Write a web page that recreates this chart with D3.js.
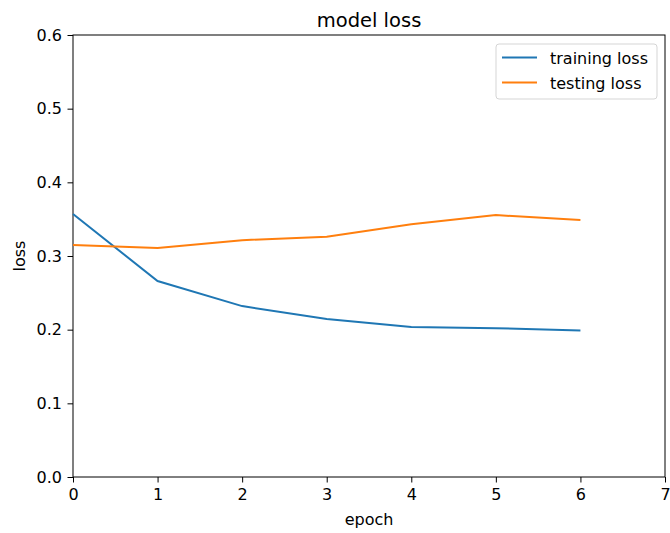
<!DOCTYPE html>
<html>
<head>
<meta charset="utf-8">
<script src="https://cdn.jsdelivr.net/npm/d3@7"></script>
<style>
  body { margin: 0; background: #fff; }
  text { font-family: "DejaVu Sans", sans-serif; fill: #000; }
</style>
</head>
<body>
<div id="chart"></div>
<script>
"use strict";

// data
const epochs = [0, 1, 2, 3, 4, 5, 6];
const trainingLoss = [0.357, 0.266, 0.232, 0.2145, 0.2035, 0.202, 0.199];
const testingLoss = [0.315, 0.311, 0.3215, 0.326, 0.343, 0.3555, 0.349];
const xTicks = [0, 1, 2, 3, 4, 5, 6, 7];
const yTicks = [0.0, 0.1, 0.2, 0.3, 0.4, 0.5, 0.6];

const series = [
  { name: "training loss", values: trainingLoss, color: "#1f77b4" },
  { name: "testing loss", values: testingLoss, color: "#ff7f0e" }
];

const width = 670, height = 533;
const margin = { left: 73, right: 5, top: 35, bottom: 56 };
const fontSize = "16px";

let svg = d3.select("#chart").append("svg")
  .attr("width", width)
  .attr("height", height);

let x = d3.scaleLinear().domain([0, 7]).range([margin.left, width - margin.right]);
let y = d3.scaleLinear().domain([0, 0.6]).range([height - margin.bottom, margin.top]);

//axes
let xAxis = svg.append("g")
  .attr("transform", `translate(0, ${y(0)})`)
  .call(d3.axisBottom(x).tickValues(xTicks).tickFormat(d3.format("d")).tickSize(5.5).tickPadding(6.5));
let yAxis = svg.append("g")
  .attr("transform", `translate(${x(0)}, 0)`)
  .call(d3.axisLeft(y).tickValues(yTicks).tickFormat(d3.format(".1f")).tickSize(5.5).tickPadding(5.5));
[xAxis, yAxis].forEach(a => {
  a.selectAll("text").style("font-size", fontSize).style("font-family", "DejaVu Sans, sans-serif").attr("fill", "#000");
  a.selectAll("line").attr("stroke", "#000").attr("stroke-width", 1);
  a.select(".domain").remove();
});

//frame
svg.append("rect")
  .attr("x", x(0)).attr("y", y(0.6))
  .attr("width", x(7) - x(0)).attr("height", y(0) - y(0.6))
  .attr("fill", "none").attr("stroke", "#000").attr("stroke-width", 1);

//lines
let line = d3.line()
  .x((d, i) => x(epochs[i]))
  .y(d => y(d));

svg.selectAll("path.series")
  .data(series)
  .enter()
  .append("path")
  .classed("series", true)
  .attr("d", d => line(d.values))
  .attr("fill", "none")
  .attr("stroke", d => d.color)
  .attr("stroke-width", 2);

//titles
svg.append("text")
  .attr("x", (x(0) + x(7)) / 2).attr("y", 26.5)
  .attr("text-anchor", "middle")
  .style("font-size", "19.5px")
  .text("model loss");
svg.append("text")
  .attr("x", (x(0) + x(7)) / 2).attr("y", 525)
  .attr("text-anchor", "middle")
  .style("font-size", fontSize)
  .text("epoch");
svg.append("text")
  .attr("transform", `translate(25, ${(y(0) + y(0.6)) / 2}) rotate(-90)`)
  .attr("text-anchor", "middle")
  .style("font-size", fontSize)
  .text("loss");

//legend
let legend = svg.append("g").attr("transform", "translate(496, 44)");
legend.append("rect")
  .attr("width", 161).attr("height", 55)
  .attr("rx", 3)
  .attr("fill", "#fff").attr("fill-opacity", 0.8)
  .attr("stroke", "#d5d5d5");
let items = legend.selectAll("g.item")
  .data(series)
  .enter()
  .append("g")
  .classed("item", true)
  .attr("transform", (d, i) => `translate(0, ${13.5 + i * 25})`);
items.append("line")
  .attr("x1", 6).attr("x2", 41)
  .attr("stroke", d => d.color).attr("stroke-width", 2);
items.append("text")
  .attr("x", 54).attr("y", 6)
  .style("font-size", fontSize)
  .text(d => d.name);
</script>
</body>
</html>
